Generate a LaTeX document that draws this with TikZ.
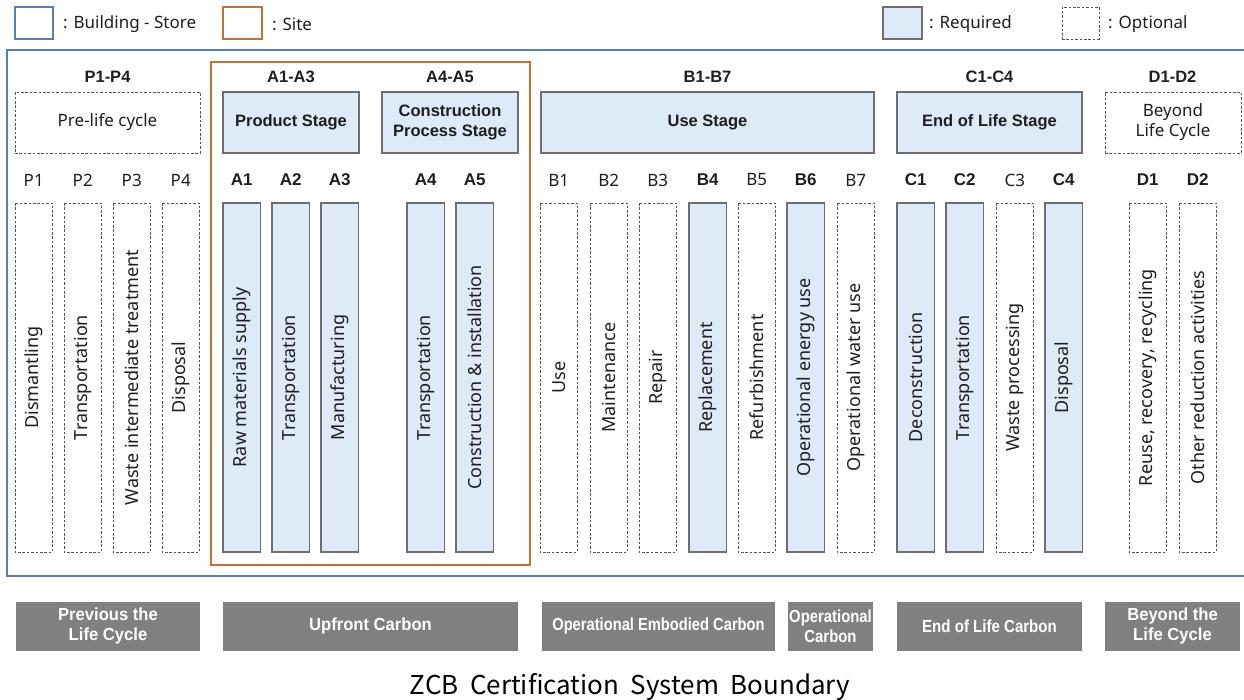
\documentclass[tikz,border=0pt]{standalone}
\usepackage{graphicx}
\usepackage{fontspec}
\setmainfont{Noto Sans}
\newfontfamily\grayfont{Liberation Sans}
\newfontfamily\boldsans{Liberation Sans}
\newfontfamily\titlefont{Noto Sans CJK KR}
\definecolor{bstore}{HTML}{5B7DB5}
\definecolor{site}{HTML}{C47234}
\definecolor{reqfill}{HTML}{DEEAF7}
\definecolor{boxline}{HTML}{6E6E6E}
\definecolor{dashline}{HTML}{555555}
\definecolor{grayfill}{HTML}{808080}
\definecolor{txt}{HTML}{1E1E1E}
\tikzset{
  req/.style={draw=boxline, fill=reqfill, line width=1.2pt, inner sep=0pt},
  opt/.style={draw=dashline, dash pattern=on 2.6pt off 1.8pt, line width=0.9pt, inner sep=0pt},
  colbox/.style={rotate=90, minimum width=349pt, minimum height=37.5pt, text=txt, font=\fontsize{18}{20}\selectfont},
  stagebox/.style={minimum height=61pt, align=center, text=txt},
  hdr/.style={text=txt, font=\boldsans\bfseries\fontsize{16.5}{18}\selectfont},
  code/.style={text=txt, font=\fontsize{17}{19}\selectfont},
  codeb/.style={text=txt, font=\boldsans\bfseries\fontsize{17}{19}\selectfont},
  legtext/.style={anchor=west, inner sep=0pt, text=txt, font=\fontsize{17}{19}\selectfont},
  carbon/.style={fill=grayfill, text=white, minimum height=49pt, inner sep=0pt, align=center, font=\grayfont\bfseries\fontsize{17.5}{20}\selectfont},
  frame/.style={line width=2.5pt, inner sep=0pt}
}
\newcommand\colitem[5]{%
  \node[colbox,#3] (col#1) at ({#2+18.75},377.5) {#5};
  \node[#4] (lab#1) at ({#2+18.75},180) {#1};
}
\newcommand\sqz[2]{\scalebox{#1}[1]{#2}}
\begin{document}
\begin{tikzpicture}[x=1pt,y=-1pt]
\useasboundingbox (0,0) rectangle (1244,699);
% legend
\node[frame, draw=bstore, minimum width=38pt, minimum height=32pt] (legB) at (34,23) {};
\node[legtext] (legBt) at (63,24) {: Building - Store};
\node[frame, draw=site, minimum width=39pt, minimum height=32pt] (legS) at (242.5,23) {};
\node[legtext] (legSt) at (272,24) {: Site};
\node[req, minimum width=39pt, minimum height=32pt] (legR) at (902.5,23) {};
\node[legtext] (legRt) at (929,24) {: Required};
\node[opt, minimum width=37pt, minimum height=32pt] (legO) at (1080.5,23) {};
\node[legtext] (legOt) at (1108,24) {: Optional};
% frames
\node[frame, draw=bstore, minimum width=1250pt, minimum height=526pt] (store) at (632,313) {};
\node[frame, draw=site, minimum width=319pt, minimum height=503pt] (site) at (370.5,313.5) {};
% headers
\node[hdr] (hP) at (107.5,77) {P1-P4};
\node[hdr] (hA13) at (291,77) {A1-A3};
\node[hdr] (hA45) at (450,77) {A4-A5};
\node[hdr] (hB) at (707.5,77) {B1-B7};
\node[hdr] (hC) at (989.5,77) {C1-C4};
\node[hdr] (hD) at (1172.5,77) {D1-D2};
% stage boxes
\node[opt, stagebox, minimum width=185pt, font=\fontsize{17}{20}\selectfont] (sP) at (107.5,122.5) {Pre-life cycle};
\node[req, stagebox, minimum width=136pt, font=\boldsans\bfseries\fontsize{16.5}{20}\selectfont] (sA13) at (291,122.5) {Product Stage};
\node[req, stagebox, minimum width=136pt, font=\boldsans\bfseries\fontsize{16.5}{20}\selectfont] (sA45) at (450,122.5) {Construction\\Process Stage};
\node[req, stagebox, minimum width=333pt, font=\boldsans\bfseries\fontsize{16.5}{20}\selectfont] (sB) at (707.5,122.5) {Use Stage};
\node[req, stagebox, minimum width=185pt, font=\boldsans\bfseries\fontsize{16.5}{20}\selectfont] (sC) at (989.5,122.5) {End of Life Stage};
\node[opt, stagebox, minimum width=136pt, font=\fontsize{17}{20}\selectfont] (sD) at (1173,122.5) {Beyond\\Life Cycle};
% columns
\colitem{P1}{15}{opt}{code}{Dismantling}
\colitem{P2}{64}{opt}{code}{Transportation}
\colitem{P3}{113}{opt}{code}{Waste intermediate treatment}
\colitem{P4}{162}{opt}{code}{Disposal}
\colitem{A1}{223}{req}{codeb}{Raw materials supply}
\colitem{A2}{272}{req}{codeb}{Transportation}
\colitem{A3}{321}{req}{codeb}{Manufacturing}
\colitem{A4}{407}{req}{codeb}{Transportation}
\colitem{A5}{456}{req}{codeb}{Construction \& installation}
\colitem{B1}{540}{opt}{code}{Use}
\colitem{B2}{590}{opt}{code}{Maintenance}
\colitem{B3}{639}{opt}{code}{Repair}
\colitem{B4}{689}{req}{codeb}{Replacement}
\colitem{B5}{738}{opt}{code}{Refurbishment}
\colitem{B6}{787}{req}{codeb}{Operational energy use}
\colitem{B7}{837}{opt}{code}{Operational water use}
\colitem{C1}{897}{req}{codeb}{Deconstruction}
\colitem{C2}{946}{req}{codeb}{Transportation}
\colitem{C3}{996}{opt}{code}{Waste processing}
\colitem{C4}{1045}{req}{codeb}{Disposal}
\colitem{D1}{1129}{opt}{codeb}{Reuse, recovery, recycling}
\colitem{D2}{1179}{opt}{codeb}{Other reduction activities}
% carbon boxes
\node[carbon, minimum width=184pt] (gP) at (108,626) {\sqz{0.95}{Previous the}\\\sqz{0.95}{Life Cycle}};
\node[carbon, minimum width=295pt] (gA) at (370.5,626) {\sqz{0.95}{Upfront Carbon}};
\node[carbon, minimum width=233pt] (gB) at (658.5,626) {\sqz{0.84}{Operational Embodied Carbon}};
\node[carbon, minimum width=85pt] (gB6) at (830.5,626) {\sqz{0.85}{Operational}\\\sqz{0.85}{Carbon}};
\node[carbon, minimum width=185pt] (gC) at (989.5,626) {\sqz{0.86}{End of Life Carbon}};
\node[carbon, minimum width=135pt] (gD) at (1172.5,626) {\sqz{0.95}{Beyond the}\\\sqz{0.95}{Life Cycle}};
% title
\node[anchor=base, inner sep=0pt, font=\titlefont] (title) at (630,694) {\resizebox{440pt}{21pt}{ZCB\ \ Certification\ \ System\ \ Boundary}};
\end{tikzpicture}
\end{document}
